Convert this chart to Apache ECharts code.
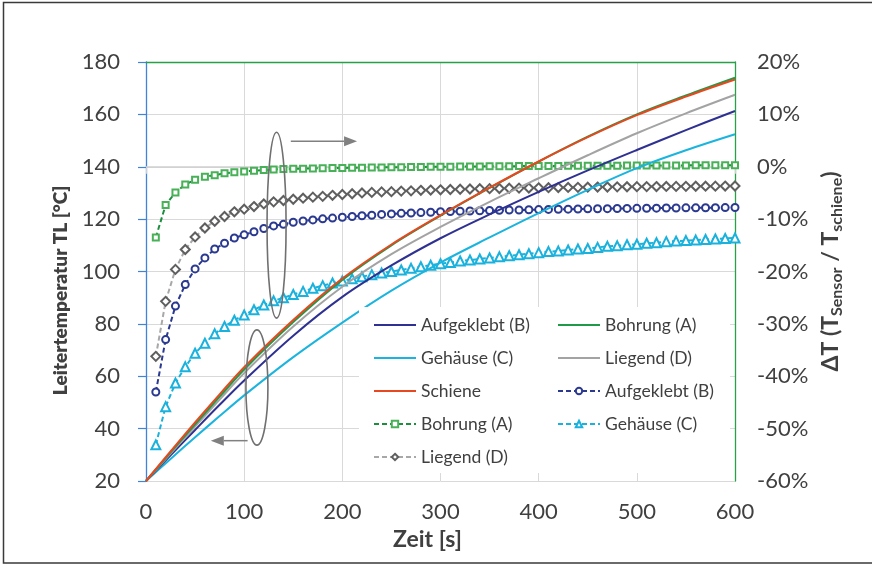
<!DOCTYPE html>
<html>
<head>
<meta charset="utf-8">
<script src="https://cdn.jsdelivr.net/npm/echarts@6/dist/echarts.min.js"></script>
<style>
html,body{margin:0;padding:0;background:#fff;}
#c{width:872px;height:566px;}
</style>
</head>
<body>
<div id="c"></div>
<script>
// ---- data ----
const solidTime = [0, 25, 50, 75, 100, 150, 200, 250, 300, 350, 400, 450, 500, 550, 600];
const schiene      = [20, 31.3, 42.4, 53.1, 63.5, 81.5, 97.3, 110.3, 121.5, 132.0, 142.0, 151.3, 159.7, 166.8, 173.3];
const bohrungT     = [20, 30.9, 41.6, 52.2, 62.6, 80.7, 96.8, 110.0, 121.3, 131.9, 142.0, 151.5, 160.0, 167.2, 174.0];
const liegendT     = [20, 30.5, 40.8, 51.1, 61.2, 79.0, 94.2, 106.6, 117.0, 126.6, 135.6, 144.4, 152.8, 160.4, 167.5];
const aufgeklebtT  = [20, 29.8, 39.5, 49.1, 58.4, 75.5, 90.3, 102.3, 112.7, 121.8, 130.4, 138.6, 146.4, 154.0, 161.3];
const gehaeuseT    = [20, 28.4, 36.7, 44.8, 52.7, 67.3, 80.5, 92.7, 103.4, 113.0, 122.3, 131.2, 139.5, 146.3, 152.4];

const dtTime = [10,20,30,40,50,60,70,80,90,100,110,120,130,140,150,160,170,180,190,200,
  210,220,230,240,250,260,270,280,290,300,310,320,330,340,350,360,370,380,390,400,
  410,420,430,440,450,460,470,480,490,500,510,520,530,540,550,560,570,580,590,600];
const aufgeklebtDT = [-43.0,-33.0,-26.6,-22.5,-19.5,-17.4,-15.7,-14.6,-13.6,-13.0,-12.4,-11.8,-11.3,-11.0,-10.6,-10.35,-10.15,-9.95,-9.8,-9.65,
  -9.5,-9.35,-9.25,-9.1,-9.0,-8.9,-8.82,-8.75,-8.68,-8.6,-8.55,-8.5,-8.45,-8.4,-8.36,-8.32,-8.28,-8.25,-8.22,-8.18,
  -8.15,-8.12,-8.1,-8.07,-8.04,-8.02,-8.0,-7.98,-7.96,-7.94,-7.92,-7.9,-7.88,-7.87,-7.85,-7.84,-7.83,-7.81,-7.8,-7.79];
const bohrungDT = [-13.5,-7.3,-4.9,-3.4,-2.5,-1.9,-1.6,-1.25,-1.05,-0.9,-0.75,-0.62,-0.52,-0.45,-0.4,-0.36,-0.32,-0.29,-0.26,-0.23,
  -0.2,-0.17,-0.14,-0.12,-0.1,-0.08,-0.06,-0.04,-0.02,0.0,0.02,0.03,0.05,0.06,0.08,0.09,0.1,0.12,0.13,0.14,
  0.15,0.16,0.17,0.18,0.19,0.2,0.2,0.21,0.22,0.23,0.23,0.24,0.25,0.25,0.26,0.27,0.27,0.28,0.28,0.29];
const gehaeuseDT = [-53.1,-45.8,-41.3,-38.2,-35.6,-33.7,-31.9,-30.5,-29.3,-28.3,-27.3,-26.4,-25.6,-25.0,-24.4,-23.8,-23.2,-22.7,-22.2,-21.8,
  -21.4,-21.0,-20.6,-20.3,-20.0,-19.7,-19.4,-19.1,-18.8,-18.5,-18.3,-18.0,-17.8,-17.6,-17.4,-17.2,-17.0,-16.8,-16.6,-16.4,
  -16.2,-16.1,-15.9,-15.7,-15.6,-15.4,-15.2,-15.1,-14.9,-14.8,-14.6,-14.5,-14.3,-14.2,-14.1,-14.0,-13.9,-13.8,-13.7,-13.6];
const liegendDT = [-36.2,-25.7,-19.6,-15.8,-13.4,-11.7,-10.4,-9.5,-8.6,-8.1,-7.6,-7.1,-6.7,-6.45,-6.2,-6.0,-5.8,-5.65,-5.45,-5.3,
  -5.15,-5.0,-4.9,-4.8,-4.75,-4.65,-4.6,-4.5,-4.45,-4.4,-4.35,-4.3,-4.25,-4.2,-4.18,-4.15,-4.1,-4.08,-4.05,-4.02,
  -4.0,-3.97,-3.95,-3.93,-3.9,-3.88,-3.86,-3.84,-3.82,-3.8,-3.79,-3.78,-3.76,-3.75,-3.74,-3.72,-3.71,-3.7,-3.69,-3.68];

const xTicks = {min: 0, max: 600, step: 100};
const yLeftTicks = {min: 20, max: 180, step: 20};
const yRightTicks = {min: -60, max: 20, step: 10};

// display names (legend) keyed by unique series ids
const displayName = {
  'B_s': 'Aufgeklebt (B)', 'A_s': 'Bohrung (A)', 'C_s': 'Gehäuse (C)', 'D_s': 'Liegend (D)', 'S_s': 'Schiene',
  'B_d': 'Aufgeklebt (B)', 'A_d': 'Bohrung (A)', 'C_d': 'Gehäuse (C)', 'D_d': 'Liegend (D)'
};

const FONT = 'Lato, "Open Sans", sans-serif';
const TXT = '#404040';

function pairs(xs, ys){ return xs.map((x,i)=>[x, ys[i]]); }

function solid(id, ys, color){
  return {id, name: id, type: 'line', xAxisIndex: 0, yAxisIndex: 0, data: pairs(solidTime, ys),
    smooth: 0.35, symbol: 'none', showSymbol: false, z: 3,
    itemStyle: {color}, lineStyle: {color, width: 2}};
}
function dashed(id, ys, lineColor, markColor, symbol, size){
  return {id, name: id, type: 'line', xAxisIndex: 0, yAxisIndex: 1, data: pairs(dtTime, ys),
    smooth: false, symbol, symbolSize: size, showSymbol: true, z: 2,
    itemStyle: {color: markColor, borderColor: markColor, borderWidth: 1.2},
    lineStyle: {color: lineColor, width: 2, type: [5, 3]}};
}
function solidItem(id){ return {name: id, itemStyle: {opacity: 0}}; }

const legendCommon = {
  orient: 'vertical', itemWidth: 42, itemHeight: 8, itemGap: 15,
  textStyle: {fontFamily: FONT, fontSize: 17.5, color: TXT},
  formatter: n => displayName[n], selectedMode: false, z: 6
};

const option = {
  animation: false,
  textStyle: {fontFamily: FONT},
  grid: {left: 146, right: 137, top: 62, bottom: 85, containLabel: false},
  xAxis: [
    {type: 'value', position: 'bottom', min: xTicks.min, max: xTicks.max, interval: xTicks.step,
     axisLine: {show: true, lineStyle: {color: '#d0d0d0', width: 1.5}},
     axisTick: {show: true, length: 7, lineStyle: {color: '#d0d0d0', width: 1}},
     axisLabel: {fontFamily: FONT, fontSize: 22, color: TXT, margin: 20},
     splitLine: {show: true, lineStyle: {color: '#d9d9d9', width: 1}},
     name: 'Zeit [s]', nameLocation: 'middle', nameGap: 44,
     nameTextStyle: {fontFamily: FONT, fontSize: 23, fontWeight: 'bold', color: TXT, padding: [0, 26, 0, 0]}},
    {type: 'value', position: 'top', min: xTicks.min, max: xTicks.max, interval: xTicks.step,
     axisLine: {show: true, onZero: false, lineStyle: {color: '#27a048', width: 1.3}},
     axisTick: {show: false}, axisLabel: {show: false}, splitLine: {show: false}}
  ],
  yAxis: [
    {type: 'value', position: 'left', min: yLeftTicks.min, max: yLeftTicks.max, interval: yLeftTicks.step,
     axisLine: {show: true, lineStyle: {color: '#3f84d6', width: 1.3}},
     axisTick: {show: true, length: 8, lineStyle: {color: '#3f84d6', width: 1.2}},
     axisLabel: {fontFamily: FONT, fontSize: 22, color: TXT, margin: 26},
     splitLine: {show: true, lineStyle: {color: '#d9d9d9', width: 1}},
     name: '{n|Leitertemperatur TL [°C]}', nameLocation: 'middle', nameGap: 70, nameRotate: 90,
     nameTextStyle: {fontFamily: FONT, color: TXT, padding: [0, 38, 0, 0],
       rich: {n: {fontFamily: FONT, fontSize: 19, fontWeight: 800, color: TXT, lineHeight: 24}}}},
    {type: 'value', position: 'right', min: yRightTicks.min, max: yRightTicks.max, interval: yRightTicks.step,
     axisLine: {show: true, onZero: false, lineStyle: {color: '#27a048', width: 1.3}},
     axisTick: {show: false},
     axisLabel: {fontFamily: FONT, fontSize: 22, color: TXT, margin: 22, formatter: '{value}%'},
     splitLine: {show: false},
     name: '{b|ΔT (T}{s|Sensor}{b| / T}{s|schiene}{b|)}', nameLocation: 'middle', nameGap: 78, nameRotate: 90,
     nameTextStyle: {fontFamily: FONT, color: TXT,
       rich: {
         b: {fontFamily: FONT, fontSize: 23, fontWeight: 'bold', color: TXT, lineHeight: 29},
         s: {fontFamily: FONT, fontSize: 16, fontWeight: 'bold', color: TXT, lineHeight: 16, verticalAlign: 'bottom'}
       }}}
  ],
  legend: [
    Object.assign({left: 368, top: 311, data: [solidItem('B_s'), solidItem('C_s'), solidItem('S_s'), 'A_d', 'D_d']}, legendCommon),
    Object.assign({left: 552, top: 311, data: [solidItem('A_s'), solidItem('D_s'), 'B_d', 'C_d']}, legendCommon)
  ],
  series: [
    dashed('A_d', bohrungDT, '#1c8f3f', '#48b158', 'emptyRect', 6),
    dashed('D_d', liegendDT, '#a8a8a8', '#5f5f5f', 'emptyDiamond', 9),
    dashed('B_d', aufgeklebtDT, '#2b3a90', '#2b3a90', 'emptyCircle', 7),
    dashed('C_d', gehaeuseDT, '#1ab2dd', '#1ab2dd', 'emptyTriangle', 9),
    solid('C_s', gehaeuseT, '#1ab4de'),
    solid('B_s', aufgeklebtT, '#2e3192'),
    solid('D_s', liegendT, '#a3a3a3'),
    solid('A_s', bohrungT, '#1f9a48'),
    solid('S_s', schiene, '#e8481f')
  ]
};

const chart = echarts.init(document.getElementById('c'), null, {renderer: 'canvas'});
chart.setOption(option);

// annotations (ellipses + arrows) positioned in data coordinates
const annot = {
  upperEllipse: {t: 133, v: 117.7, rt: 9.7, rv: 35.5},
  upperArrow: {t0: 147.5, t1: 215, v: 149.7},
  lowerEllipse: {t: 113, v: 55.7, rt: 11.2, rv: 22},
  lowerArrow: {t0: 103.5, t1: 66, v: 35.4}
};
function px(t, v){ return chart.convertToPixel({xAxisIndex: 0, yAxisIndex: 0}, [t, v]); }
function ellipse(e){
  const c = px(e.t, e.v), r1 = px(e.t + e.rt, e.v + e.rv);
  return {type: 'ellipse', z: 5, shape: {cx: c[0], cy: c[1], rx: Math.abs(r1[0]-c[0]), ry: Math.abs(r1[1]-c[1])},
    style: {fill: null, stroke: '#707070', lineWidth: 1.6}};
}
function arrow(a){
  const p0 = px(a.t0, a.v), p1 = px(a.t1, a.v);
  const dir = Math.sign(p1[0]-p0[0]);
  const hl = 13, hw = 5;
  return [
    {type: 'line', z: 5, shape: {x1: p0[0], y1: p0[1], x2: p1[0] - dir*hl, y2: p1[1]}, style: {stroke: '#808080', lineWidth: 1.5}},
    {type: 'polygon', z: 5, shape: {points: [[p1[0], p1[1]], [p1[0]-dir*hl, p1[1]-hw], [p1[0]-dir*hl, p1[1]+hw]]}, style: {fill: '#808080'}}
  ];
}
chart.setOption({
  graphic: [
    {type: 'rect', z: 4, shape: {x: 359, y: 307, width: 371, height: 166}, style: {fill: '#ffffff'}},
    {type: 'rect', z: 10, shape: {x: 3.5, y: 2.5, width: 900, height: 560.5}, style: {fill: null, stroke: '#3a3a3a', lineWidth: 1.5}},
    ellipse(annot.upperEllipse),
    ellipse(annot.lowerEllipse),
    ...arrow(annot.upperArrow),
    ...arrow(annot.lowerArrow)
  ]
});
</script>
</body>
</html>
